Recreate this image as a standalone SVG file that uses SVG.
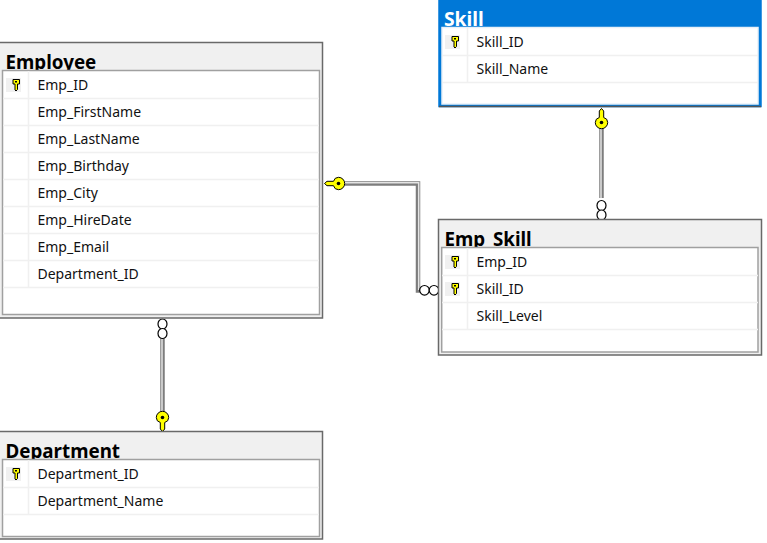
<svg xmlns="http://www.w3.org/2000/svg" xmlns:xlink="http://www.w3.org/1999/xlink" width="767" height="543" viewBox="0 0 767 543">
<style>
text{font-family:"Noto Sans","Open Sans","Liberation Sans",sans-serif}
.outer{fill:#f0f0f0;stroke:#696969;stroke-width:1.5}
.outerSel{fill:#0078d7;stroke:#0078d7;stroke-width:1.5}
.inner{fill:#fff;stroke:#a0a0a0;stroke-width:1.5}
.title{font-size:18.800px;font-weight:700;fill:#000}
.titleSel{font-size:19.300px;font-weight:700;fill:#fff}
.col{font-size:14px;fill:#111}
.sep{stroke:#f0f0f0;stroke-width:1.5;fill:none}
.wire{fill:none;stroke:#7d7d7d;stroke-width:4.5}
.wirec{fill:none;stroke:#e4e4e4;stroke-width:1.5}
.ring{fill:#fff;stroke:#000;stroke-width:1.2}
.keybg{fill:#f0f0f0}
.key{fill:#ffff00;stroke:#000;stroke-width:1}
</style>
<defs>
<g id="smallKey">
<rect class="keybg" x="-8" y="-7" width="15" height="14"/>
<path class="key" d="M-1-5.500h6.500v4.500h-2v5.500l-1.500 1.500-1-1v-6h-2z" stroke-width="0.9"/>
<rect x="1" y="-4" width="2" height="1.500" fill="#000"/>
</g>
<g id="bigKey">
<path class="key" d="M0-11.500l2.200 2.500v6.500q4 1 4 5a6.200 6.200 0 0 1-12.400 0q0-4 4-5v-6.500z"/>
<circle cx="0" cy="2.500" r="1.800" fill="#000"/>
</g>
</defs>
<rect width="767" height="543" fill="#fff"/>
<g id="connectors">
<path class="wire" d="M345 183.500H418V290.500H423"/>
<path class="wirec" d="M345 182.800H418.700V290"/>
<path class="wire" d="M601.500 128V198"/>
<path class="wirec" d="M601 128V198"/>
<path class="wire" d="M162.500 339V413"/>
<path class="wirec" d="M162 339V413"/>
<circle class="ring" cx="424.500" cy="290.300" r="4.800"/>
<circle class="ring" cx="434" cy="290.300" r="4.800"/>
<ellipse class="ring" cx="601.500" cy="205.500" rx="4.500" ry="5"/>
<ellipse class="ring" cx="601.500" cy="215" rx="4.500" ry="5"/>
<ellipse class="ring" cx="162.500" cy="324" rx="4.500" ry="5"/>
<ellipse class="ring" cx="162.500" cy="333.500" rx="4.500" ry="5"/>
<use xlink:href="#bigKey" href="#bigKey" transform="translate(601.500 120)"/>
<use xlink:href="#bigKey" href="#bigKey" transform="translate(162.500 420) rotate(180)"/>
<use xlink:href="#bigKey" href="#bigKey" transform="translate(336 183.500) rotate(-90)"/>
</g>
<g id="node-employee">
<rect class="outer" x="-1" y="42.500" width="323.500" height="275.500"/>
<text class="title" x="5.500" y="69">Employee</text>
<rect class="inner" x="2.500" y="70.500" width="317" height="244"/>
<path class="sep" d="M3 98.500H319M3 125.500H319M3 152.500H319M3 179.500H319M3 206.500H319M3 233.500H319M3 260.500H319M3 287.500H319M28.500 71V287.500"/>
<use xlink:href="#smallKey" href="#smallKey" transform="translate(14 85)"/>
<text class="col" x="37.500" y="90">Emp_ID</text>
<text class="col" x="37.500" y="117">Emp_FirstName</text>
<text class="col" x="37.500" y="144">Emp_LastName</text>
<text class="col" x="37.500" y="171">Emp_Birthday</text>
<text class="col" x="37.500" y="198">Emp_City</text>
<text class="col" x="37.500" y="225">Emp_HireDate</text>
<text class="col" x="37.500" y="252">Emp_Email</text>
<text class="col" x="37.500" y="279">Department_ID</text>
</g>
<g id="node-department">
<rect class="outer" x="-1" y="431.500" width="323.500" height="107.500"/>
<text class="title" x="5.500" y="458">Department</text>
<rect class="inner" x="2.500" y="459.500" width="317" height="77"/>
<path class="sep" d="M3 487.500H319M3 514.500H319M28.500 460V514.500"/>
<use xlink:href="#smallKey" href="#smallKey" transform="translate(14 474)"/>
<text class="col" x="37.500" y="479">Department_ID</text>
<text class="col" x="37.500" y="506">Department_Name</text>
</g>
<g id="node-skill">
<rect class="outerSel" x="439" y="-5" width="322" height="111.500"/>
<path d="M439 106.500H761" fill="none" stroke="#555" stroke-width="1.500"/>
<text class="titleSel" x="444" y="26">Skill</text>
<rect class="inner" style="stroke:#e8f0f8" x="442" y="27.500" width="316" height="76.500"/>
<path class="sep" d="M442 55.500H758M442 82.500H758M467.500 28V82.500"/>
<use xlink:href="#smallKey" href="#smallKey" transform="translate(453 42)"/>
<text class="col" x="476.500" y="47">Skill_ID</text>
<text class="col" x="476.500" y="74">Skill_Name</text>
</g>
<g id="node-emp-skill">
<rect class="outer" x="438.500" y="219.500" width="323" height="135.500"/>
<text class="title" x="444.500" y="246">Emp_Skill</text>
<rect class="inner" x="441.700" y="247.500" width="316.300" height="104.500"/>
<path class="sep" d="M442 275.500H758M442 302.500H758M442 329.500H758M467.500 248V329.500"/>
<use xlink:href="#smallKey" href="#smallKey" transform="translate(453 262)"/>
<use xlink:href="#smallKey" href="#smallKey" transform="translate(453 289)"/>
<text class="col" x="476.500" y="267">Emp_ID</text>
<text class="col" x="476.500" y="294">Skill_ID</text>
<text class="col" x="476.500" y="321">Skill_Level</text>
</g>
</svg>
